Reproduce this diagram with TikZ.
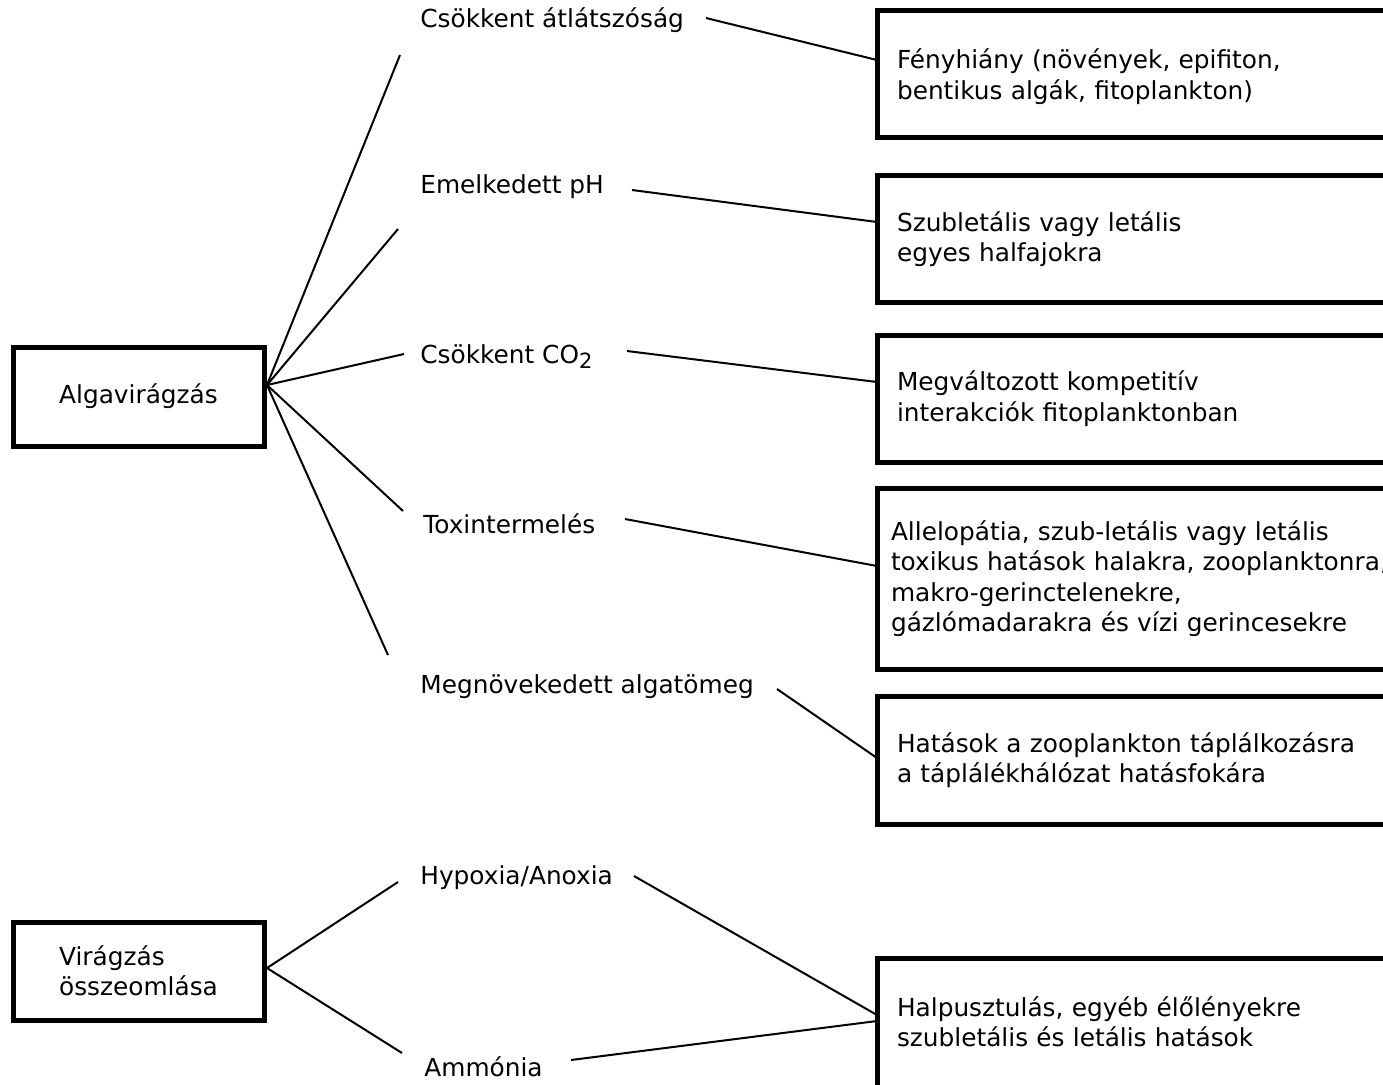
\documentclass[tikz,border=0pt]{standalone}
\usepackage{fontspec}
\setmainfont{DejaVu Sans}
\begin{document}
\begin{tikzpicture}[x=0.5pt,y=-0.5pt,
  font=\fontsize{12.4}{15.2}\selectfont,
  rbox/.style={draw, line width=2.5pt, outer sep=0pt, anchor=north west, align=left,
    inner xsep=10pt, inner ysep=0pt, text width=300pt, minimum width=262pt},
  lbox/.style={draw, line width=2.5pt, outer sep=0pt, anchor=north west, align=left,
    inner sep=0pt, minimum width=125.5pt},
  lab/.style={anchor=base west, inner sep=0pt},
  conn/.style={line width=1pt}]
\useasboundingbox (0,0) rectangle (1383,1084);
\clip (0,0) rectangle (1383,1084);

% left boxes
\node[lbox, minimum height=49.5pt] (alga) at (13,347) {Algavirágzás};
\node[lbox, minimum height=49pt] (osz) at (13,922) {Virágzás\\összeomlása};

% labels
\node[lab] (l1) at (420,27) {Csökkent átlátszóság};
\node[lab] (l2) at (420,193) {Emelkedett pH};
\node[lab] (l3) at (420,363) {Csökkent CO\raisebox{-2.5pt}{\fontsize{10.5}{11}\selectfont 2}};
\node[lab] (l4) at (423,533) {Toxintermelés};
\node[lab] (l5) at (420,693.5) {Megnövekedett algatömeg};
\node[lab] (l6) at (420,884) {Hypoxia/Anoxia};
\node[lab] (l7) at (424,1076) {Ammónia};

% right boxes
\node[rbox, minimum height=63.75pt] (b1) at (877,10) {\rule{0pt}{13pt}Fényhiány (növények, epifiton,\\bentikus algák, fitoplankton)};
\node[rbox, minimum height=63.5pt] (b2) at (877,175.5) {Szubletális vagy letális\\egyes halfajokra};
\node[rbox, minimum height=63.75pt] (b3) at (877,335) {Megváltozott kompetitív\\interakciók fitoplanktonban};
\node[rbox, minimum height=90.5pt, inner xsep=7pt] (b4) at (877,488) {Allelopátia, szub-letális vagy letális\\toxikus hatások halakra, zooplanktonra,\\makro-gerinctelenekre,\\gázlómadarakra és vízi gerincesekre};
\node[rbox, minimum height=64pt] (b5) at (877,696) {Hatások a zooplankton táplálkozásra\\a táplálékhálózat hatásfokára};
\node[rbox, minimum height=66pt, text depth=17.6pt] (b6) at (877,958) {Halpusztulás, egyéb élőlényekre\\szubletális és letális hatások};

% hubs and free ends
\coordinate (ahub) at (267,385);
\coordinate (vhub) at (267,968);
\coordinate (e1) at (400,55);
\coordinate (e2) at (398,229);
\coordinate (e3) at (404,354);
\coordinate (e4) at (403,511);
\coordinate (e5) at (388,655);
\coordinate (e6) at (398,882);
\coordinate (e7) at (402,1053);
\coordinate (s1) at (706,18);
\coordinate (s2) at (632,190);
\coordinate (s3) at (627,351);
\coordinate (s4) at (625,519);
\coordinate (s5) at (777,689);
\coordinate (s6) at (634,876);
\coordinate (s7) at (571,1060);

\foreach \e in {e1,e2,e3,e4,e5} \draw[conn] (ahub) -- (\e);
\foreach \e in {e6,e7} \draw[conn] (vhub) -- (\e);

\draw[conn] (s1) -- (b1.west |- 0,60);
\draw[conn] (s2) -- (b2.west |- 0,222);
\draw[conn] (s3) -- (b3.west |- 0,382);
\draw[conn] (s4) -- (b4.west |- 0,566);
\draw[conn] (s5) -- (b5.west |- 0,758);
\draw[conn] (s6) -- (b6.west |- 0,1015);
\draw[conn] (s7) -- (b6.west |- 0,1021);
\end{tikzpicture}
\end{document}
